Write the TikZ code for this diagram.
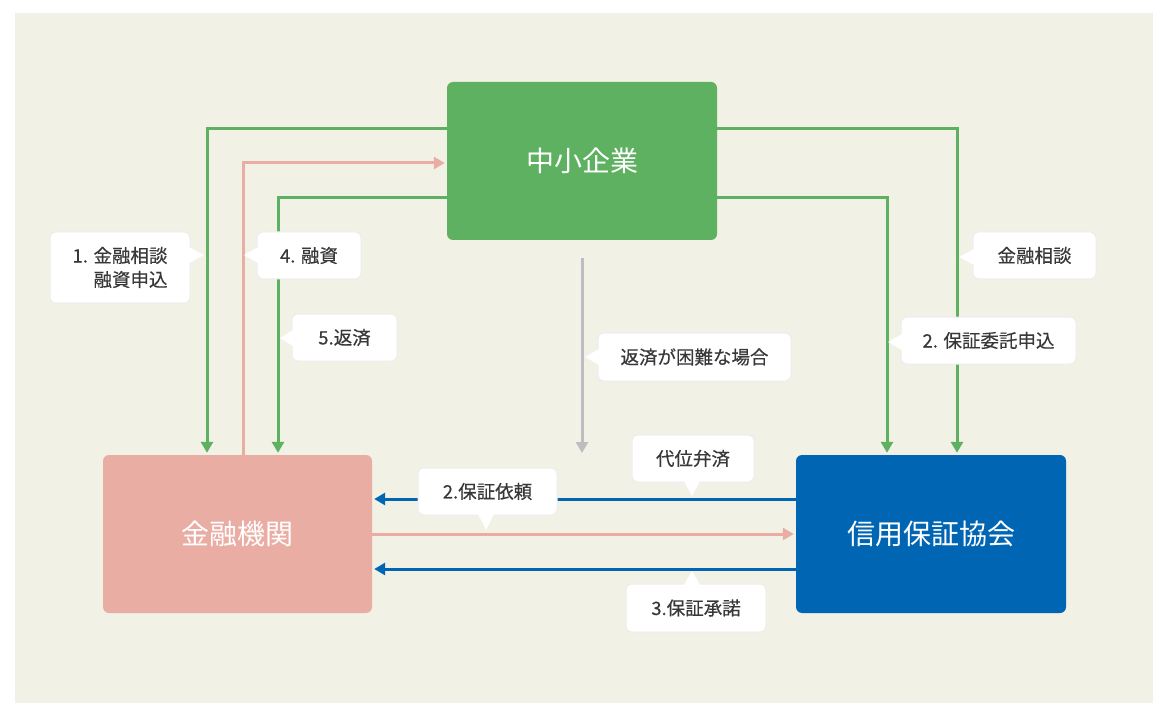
\documentclass[tikz,border=0pt]{standalone}
\usepackage{fontspec}
\setmainfont{Noto Sans CJK JP}
\newfontfamily\calfont[FakeBold=0.35]{Noto Sans CJK JP}
\usetikzlibrary{arrows.meta}
\definecolor{bgc}{HTML}{F2F1E6}
\definecolor{grn}{HTML}{5EB160}
\definecolor{pnk}{HTML}{E9ADA4}
\definecolor{blu}{HTML}{0066B3}
\definecolor{gry}{HTML}{BDBDC2}
\definecolor{txt}{HTML}{383838}
\tikzset{
  bigbox/.style={rounded corners=6pt, minimum width=270pt, minimum height=158pt, inner sep=0pt,
    text=white, font=\fontsize{28}{32}\selectfont},
  callout/.style={fill=white, draw=black!7, line width=1pt, rounded corners=6pt, inner sep=0pt,
    text=txt, font=\calfont\fontsize{18.5}{24}\selectfont},
  ptr/.style={fill=white},
  tipa/.style={-{Triangle[length=11pt,width=12pt]}, shorten >=2pt},
  gline/.style={draw=grn, line width=3pt, tipa},
  pline/.style={draw=pnk, line width=3pt, tipa},
  bline/.style={draw=blu, line width=3pt, tipa},
  yline/.style={draw=gry, line width=3pt, tipa},
}
\begin{document}
\begin{tikzpicture}[x=1pt,y=-1pt]
\useasboundingbox (0,0) rectangle (1168,714);
\fill[white] (0,0) rectangle (1168,714);
\fill[bgc] (15,13) rectangle (1153,703);

% main boxes
\node[bigbox, fill=grn] (sme) at (582,161) {中小企業};
\node[bigbox, fill=pnk, minimum width=269pt] (bank) at (237.5,534) {金融機関};
\node[bigbox, fill=blu] (cgc) at (931,534) {信用保証協会};

% turning points
\coordinate (l1) at (207,129);
\coordinate (lp) at (243,163);
\coordinate (l2) at (278,198);
\coordinate (r1) at (957,129);
\coordinate (r2) at (887,198);
\coordinate (gs) at (582,258);
\coordinate (ge) at (582,455);
\coordinate (h1) at (0,499);
\coordinate (h2) at (0,534);
\coordinate (h3) at (0,569);

% connectors
\draw[gline] (l1 -| sme.west) -- (l1) -- (l1 |- bank.north);
\draw[pline] (lp |- bank.north) -- (lp) -- (lp -| sme.west);
\draw[gline] (l2 -| sme.west) -- (l2) -- (l2 |- bank.north);
\draw[gline] (r1 -| sme.east) -- (r1) -- (r1 |- cgc.north);
\draw[gline] (r2 -| sme.east) -- (r2) -- (r2 |- cgc.north);
\draw[yline] (gs) -- (ge);
\draw[bline] (h1 -| cgc.west) -- (h1 -| bank.east);
\draw[pline] (h2 -| bank.east) -- (h2 -| cgc.west);
\draw[bline] (h3 -| cgc.west) -- (h3 -| bank.east);

% callouts
\node[callout, minimum width=140pt, minimum height=71pt, align=right] (c1) at (120,267.5) {1. 金融相談\\融資申込};
\fill[ptr] (189,247) -- (204,255) -- (189,263) -- cycle;

\node[callout, minimum width=104pt, minimum height=47pt] (c4) at (309,255.5) {4. 融資};
\fill[ptr] (258,247) -- (244,255) -- (258,263) -- cycle;

\node[callout, minimum width=105pt, minimum height=47pt] (c5) at (344.5,337.5) {5.返済};
\fill[ptr] (293,330) -- (280,338) -- (293,346) -- cycle;

\node[callout, minimum width=193pt, minimum height=48pt] (ch) at (694.5,357) {返済が困難な場合};
\fill[ptr] (599,349) -- (585,357) -- (599,365) -- cycle;

\node[callout, minimum width=122pt, minimum height=47pt] (cd) at (693,458.5) {代位弁済};
\fill[ptr] (684,481) -- (692,496) -- (700,481) -- cycle;

\node[callout, minimum width=139pt, minimum height=47pt] (c2r) at (487.5,491.5) {2.保証依頼};
\fill[ptr] (478,514) -- (486,530) -- (494,514) -- cycle;

\node[callout, minimum width=140pt, minimum height=48pt] (c3) at (696,608) {3.保証承諾};
\fill[ptr] (684,585) -- (692,571) -- (700,585) -- cycle;

\node[callout, minimum width=123pt, minimum height=47pt] (ck) at (1034.5,255.5) {金融相談};
\fill[ptr] (974,249) -- (959,257) -- (974,265) -- cycle;

\node[callout, minimum width=175pt, minimum height=47pt] (c2c) at (988.5,340.5) {2. 保証委託申込};
\fill[ptr] (902,334) -- (888,342) -- (902,350) -- cycle;
\end{tikzpicture}
\end{document}
